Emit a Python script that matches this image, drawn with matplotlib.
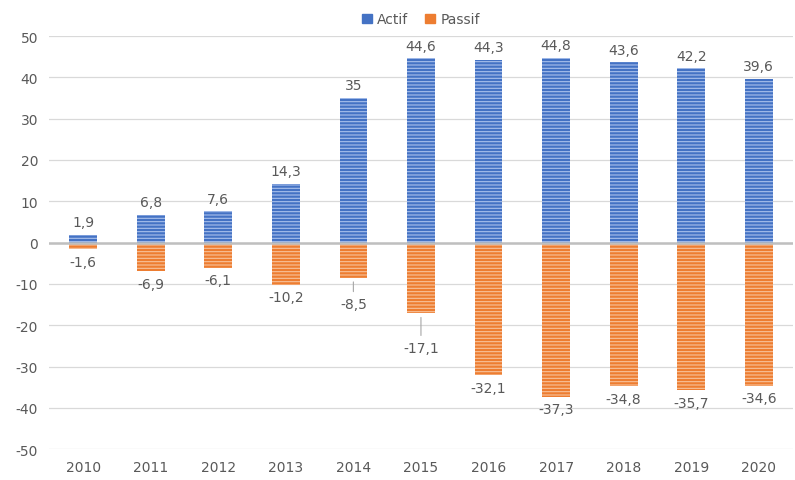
import matplotlib.pyplot as plt
from matplotlib.patches import Patch
import numpy as np

years = ["2010", "2011", "2012", "2013", "2014", "2015", "2016", "2017", "2018", "2019", "2020"]
actif = [1.9, 6.8, 7.6, 14.3, 35, 44.6, 44.3, 44.8, 43.6, 42.2, 39.6]
passif = [-1.6, -6.9, -6.1, -10.2, -8.5, -17.1, -32.1, -37.3, -34.8, -35.7, -34.6]

blue, orange = "#4472C4", "#ED7D31"
txt = "#595959"
plt.rcParams["hatch.linewidth"] = 0.8
plt.rcParams["axes.unicode_minus"] = False

fig = plt.figure(figsize=(7.95, 4.81), dpi=100)
ax = fig.add_axes([0.062, 0.064, 0.935, 0.859])

x = np.arange(len(years))
w = 0.41
ax.bar(x, actif, w, color=blue, edgecolor="#a9c0ec", linewidth=0, hatch="-----", zorder=3)
ax.bar(x, passif, w, color=orange, edgecolor="#f8c29b", linewidth=0, hatch="-----", zorder=3)

def fmt(v):
    return f"{v:g}".replace(".", ",")

for xi, v in zip(x, actif):
    ax.annotate(fmt(v), (xi, v), xytext=(0, 4), textcoords="offset points",
                ha="center", va="bottom", fontsize=10, color=txt)

# labels pushed away from the bar get a leader line
leader = {4: 14, 5: 20}
for i, (xi, v) in enumerate(zip(x, passif)):
    if i in leader:
        ax.annotate(fmt(v), (xi, v), xytext=(0, -leader[i]), textcoords="offset points",
                    ha="center", va="top", fontsize=10, color=txt,
                    arrowprops=dict(arrowstyle="-", color="#a6a6a6", lw=0.8, shrinkA=2, shrinkB=3))
    else:
        ax.annotate(fmt(v), (xi, v), xytext=(0, -4), textcoords="offset points",
                    ha="center", va="top", fontsize=10, color=txt)

ax.set_xlim(-0.5, len(years) - 0.5)
ax.set_ylim(-50, 50)
ax.set_yticks(range(-50, 51, 10))
ax.set_xticks(x)
ax.set_xticklabels(years)
ax.tick_params(length=0, labelsize=10, colors=txt, pad=8)
ax.grid(axis="y", color="#d9d9d9", lw=0.9, zorder=0)
ax.axhline(0, color="#bfbfbf", lw=1.8, zorder=4)
for s in ax.spines.values():
    s.set_visible(False)

handles = [Patch(color=blue, label="Actif"), Patch(color=orange, label="Passif")]
ax.legend(handles=handles, loc="lower center", bbox_to_anchor=(0.5, 1.0), ncol=2, frameon=False,
          fontsize=10, handlelength=0.7, handleheight=0.7, columnspacing=1.2,
          handletextpad=0.4, labelcolor=txt, borderaxespad=0.3)

fig.savefig("out.png", dpi=100)
